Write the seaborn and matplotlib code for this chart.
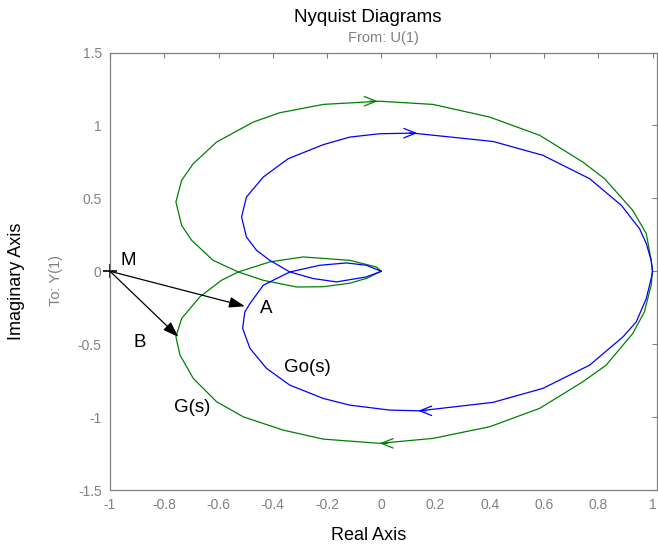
import matplotlib
matplotlib.use("Agg")
import matplotlib.pyplot as plt
import seaborn as sns
import pandas as pd

# Nyquist loci, traced as (real, imag) pairs; each curve has a positive- and
# a negative-frequency branch running from (1, 0) towards the origin.
g_upper_re = [1.0, 0.995, 0.977, 0.927, 0.823, 0.743, 0.584, 0.400, 0.191, -0.006,
              -0.214, -0.374, -0.472, -0.607, -0.693, -0.736, -0.757, -0.736, -0.699,
              -0.620, -0.527, -0.435, -0.312, -0.214, -0.116, -0.053, 0.0]
g_upper_im = [0.0, 0.075, 0.258, 0.418, 0.635, 0.749, 0.932, 1.057, 1.144, 1.166,
              1.144, 1.087, 1.023, 0.886, 0.738, 0.623, 0.475, 0.315, 0.212,
              0.075, -0.005, -0.062, -0.108, -0.106, -0.082, -0.048, 0.0]
g_lower_re = [1.0, 0.995, 0.970, 0.927, 0.829, 0.743, 0.584, 0.400, 0.191, -0.006,
              -0.214, -0.362, -0.509, -0.607, -0.693, -0.742, -0.757, -0.736, -0.669,
              -0.589, -0.527, -0.411, -0.288, -0.116, -0.018, 0.0]
g_lower_im = [0.0, -0.096, -0.279, -0.427, -0.644, -0.758, -0.940, -1.066, -1.146, -1.180,
              -1.151, -1.089, -0.998, -0.895, -0.735, -0.575, -0.450, -0.324, -0.176,
              -0.062, -0.005, 0.064, 0.098, 0.075, 0.029, 0.0]

go_upper_re = [1.0, 0.995, 0.977, 0.952, 0.885, 0.768, 0.596, 0.412, 0.117, -0.006,
               -0.116, -0.214, -0.343, -0.435, -0.497, -0.515, -0.497, -0.460, -0.411,
               -0.337, -0.251, -0.165, -0.055, 0.0]
go_upper_im = [0.0, 0.075, 0.190, 0.292, 0.452, 0.635, 0.795, 0.890, 0.947, 0.943,
               0.920, 0.868, 0.772, 0.646, 0.509, 0.372, 0.235, 0.144, 0.075,
               -0.005, -0.050, -0.073, -0.039, 0.0]
go_lower_re = [1.0, 0.995, 0.977, 0.940, 0.891, 0.768, 0.596, 0.412, 0.142, 0.031,
               -0.116, -0.214, -0.337, -0.423, -0.484, -0.511, -0.503, -0.484, -0.435,
               -0.386, -0.337, -0.227, -0.128, -0.055, 0.0]
go_lower_im = [0.0, -0.050, -0.187, -0.347, -0.450, -0.644, -0.803, -0.899, -0.957, -0.952,
               -0.918, -0.872, -0.781, -0.666, -0.529, -0.392, -0.279, -0.221, -0.096,
               -0.050, -0.005, 0.041, 0.057, 0.041, 0.0]

# direction arrows on the loci: (real, imag, +1 right / -1 left)
g_arrows = [(-0.013, 1.166, 1), (-0.006, -1.180, -1)]
go_arrows = [(0.133, 0.947, 1), (0.136, -0.957, -1)]

# critical point M and the two distance vectors
point_m = (-1.0, 0.0)
point_a = (-0.503, -0.240)
point_b = (-0.748, -0.450)

x_ticks = [-1, -0.8, -0.6, -0.4, -0.2, 0, 0.2, 0.4, 0.6, 0.8, 1]
x_tick_labels = ["-1", "-0.8", "-0.6", "-0.4", "-0.2", "0", "0.2", "0.4", "0.6", "0.8", "1"]
y_ticks = [-1.5, -1, -0.5, 0, 0.5, 1, 1.5]
y_tick_labels = ["-1.5", "-1", "-0.5", "0", "0.5", "1", "1.5"]

sns.set_style("white")
plt.rcParams["font.family"] = ["Liberation Sans", "DejaVu Sans"]

GREEN = "#008000"
BLUE = "#0000ff"
GRAY = "#808080"

fig = plt.figure(figsize=(6.58, 5.47), dpi=100)
ax = fig.add_axes([110 / 658, 57 / 547, 547 / 658, 437.5 / 547])


def branch(re, im, name):
    return pd.DataFrame({"re": re, "im": im, "branch": name})


for frame, color in [
    (branch(g_upper_re, g_upper_im, "G+"), GREEN),
    (branch(g_lower_re, g_lower_im, "G-"), GREEN),
    (branch(go_upper_re, go_upper_im, "Go+"), BLUE),
    (branch(go_lower_re, go_lower_im, "Go-"), BLUE),
]:
    sns.lineplot(data=frame, x="re", y="im", sort=False, estimator=None,
                 color=color, lw=0.9, ax=ax, legend=False)

for arrows, color in [(g_arrows, GREEN), (go_arrows, BLUE)]:
    for xr, yi, d in arrows:
        ax.annotate("", xy=(xr, yi), xytext=(xr - d * 0.03, yi),
                    arrowprops=dict(arrowstyle="->,head_length=1.0,head_width=0.4",
                                    mutation_scale=8.5, color=color, lw=0.9,
                                    shrinkA=0, shrinkB=0))

for tip in (point_a, point_b):
    ax.annotate("", xy=tip, xytext=point_m,
                arrowprops=dict(arrowstyle="-|>,head_length=0.95,head_width=0.33",
                                mutation_scale=10, color="black", lw=0.9,
                                shrinkA=0, shrinkB=0))

ax.plot([point_m[0]], [point_m[1]], marker="+", color="black", ms=10, mew=1.2,
        clip_on=False)

text_kw = dict(fontsize=13.5, color="black", ha="center", va="center")
ax.text(-0.934, 0.075, "M", **text_kw)
ax.text(-0.425, -0.253, "A", **text_kw)
ax.text(-0.890, -0.486, "B", **text_kw)
ax.text(-0.271, -0.658, "Go(s)", **text_kw)
ax.text(-0.698, -0.932, "G(s)", **text_kw)

ax.set_xlim(-1, 1.0165)
ax.set_ylim(-1.5, 1.5)
ax.set_xticks(x_ticks)
ax.set_xticklabels(x_tick_labels)
ax.set_yticks(y_ticks)
ax.set_yticklabels(y_tick_labels)
ax.tick_params(direction="in", length=3.5, width=0.8, color=GRAY, labelcolor=GRAY,
               labelsize=10, top=True, right=True, pad=6)
for side, spine in ax.spines.items():
    spine.set_visible(True)
    spine.set_color(GRAY)
    spine.set_linewidth(0.9)

ax.set_xlabel("")
ax.set_ylabel("")

fig.text(368 / 658, 1 - 17 / 547, "Nyquist Diagrams", fontsize=13.5,
         ha="center", va="center", color="black")
fig.text(383 / 658, 1 - 38 / 547, "From: U(1)", fontsize=10.5,
         ha="center", va="center", color=GRAY)
fig.text(369 / 658, 1 - 535 / 547, "Real Axis", fontsize=13,
         ha="center", va="center", color="black")
fig.text(17 / 658, 1 - 281 / 547, "Imaginary Axis", fontsize=13, rotation=90,
         ha="center", va="center", color="black")
fig.text(56 / 658, 1 - 280 / 547, "To: Y(1)", fontsize=10.5, rotation=90,
         ha="center", va="center", color=GRAY)

fig.savefig("out.png", dpi=100)
